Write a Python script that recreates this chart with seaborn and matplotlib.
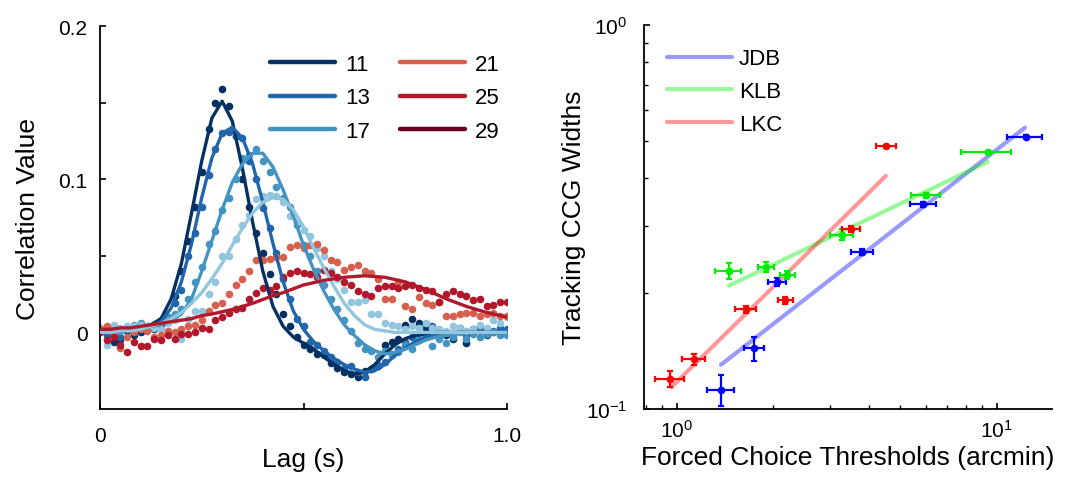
import matplotlib
matplotlib.use('Agg')
import matplotlib.pyplot as plt
import seaborn as sns
import numpy as np
from matplotlib.lines import Line2D
from matplotlib.ticker import LogLocator, NullFormatter

# ---- left panel: cross-correlograms (lag in s) ----
dot_lag = np.linspace(0, 1, 61)
curve_lag = np.linspace(0, 1, 41)

dots_11 = [0.002, -0.002, -0.006, -0.005, 0.001, -0.002, 0.000, 0.003, 0.002,
           0.005, 0.010, 0.024, 0.040, 0.060, 0.082, 0.105, 0.133, 0.150, 0.159, 0.148, 0.128,
           0.100, 0.082, 0.065, 0.052, 0.038, 0.025, 0.012, 0.004, -0.003, -0.008, -0.011, -0.014,
           -0.015, -0.020, -0.023, -0.026, -0.027, -0.029, -0.025, -0.024, -0.022, -0.008, -0.006, -0.004,
           0.005, 0.009, 0.006, 0.003, 0.002, -0.003, -0.002, -0.004, 0.001, -0.007, 0.002, 0.003,
           -0.002, 0.000, 0.001, 0.001]
dots_13 = [0.003, -0.001, 0.001, -0.003, 0.002, 0.003, 0.004, 0.004, 0.005, 0.005, 0.008,
           0.019, 0.028, 0.050, 0.065, 0.082, 0.103, 0.120, 0.130, 0.131, 0.128, 0.127, 0.112,
           0.100, 0.081, 0.068, 0.052, 0.035, 0.022, 0.009, 0.004, -0.006, -0.008, -0.012, -0.016,
           -0.019, -0.023, -0.022, -0.026, -0.029, -0.024, -0.021, -0.019, -0.014, -0.011, -0.006, -0.003,
           -0.005, -0.001, 0.004, 0.001, 0.000, -0.002, 0.003, -0.002, 0.000, 0.002, -0.001, 0.001,
           0.003, 0.002]
dots_17 = [0.001, 0.003, 0.004, 0.001, 0.003, 0.005, 0.006, 0.004, 0.005, 0.008, 0.010, 0.012,
           0.015, 0.022, 0.033, 0.043, 0.058, 0.066, 0.080, 0.088, 0.100, 0.114, 0.116, 0.120,
           0.112, 0.105, 0.095, 0.088, 0.082, 0.070, 0.057, 0.050, 0.040, 0.031, 0.022, 0.015,
           0.008, 0.001, -0.007, -0.011, -0.012, -0.016, -0.012, -0.015, -0.013, -0.008, -0.011, -0.004,
           -0.003, -0.009, -0.004, -0.007, -0.003, 0.000, -0.004, -0.001, -0.003, -0.001, 0.000,
           -0.002, -0.002]
dots_19 = [0.003, -0.008, 0.005, 0.003, 0.004, 0.004, 0.005, 0.004, 0.003, 0.002, 0.006, 0.008,
           -0.004, 0.009, 0.014, 0.014, 0.025, 0.033, 0.050, 0.050, 0.061, 0.070, 0.077, 0.087,
           0.089, 0.090, 0.089, 0.085, 0.076, 0.072, 0.067, 0.063, 0.055, 0.050, 0.040, 0.035,
           0.028, 0.020, 0.020, 0.021, 0.012, 0.012, 0.006, 0.005, 0.004, 0.002, 0.004, 0.003,
           0.006, 0.003, 0.002, 0.001, 0.004, 0.003, 0.001, 0.002, 0.005, 0.003, 0.008, 0.006, 0.010]
dots_21 = [0.002, 0.004, -0.002, -0.010, -0.003, 0.000, 0.002, 0.001, -0.003, -0.002, 0.001, 0.000,
           0.002, 0.004, 0.005, 0.008, 0.014, 0.018, 0.019, 0.025, 0.031, 0.035, 0.040, 0.047,
           0.047, 0.048, 0.049, 0.049, 0.056, 0.057, 0.055, 0.057, 0.058, 0.054, 0.047, 0.046,
           0.041, 0.043, 0.044, 0.040, 0.039, 0.035, 0.022, 0.022, 0.033, 0.017, 0.015, 0.023,
           0.019, 0.018, 0.020, 0.011, 0.011, 0.012, 0.013, 0.013, 0.011, 0.012, 0.013, 0.011, 0.011]
dots_25 = [0.000, -0.005, -0.003, -0.008, -0.013, -0.006, -0.009, -0.009, -0.004, -0.005, -0.002, -0.004,
           -0.001, -0.001, 0.000, 0.003, 0.002, 0.008, 0.010, 0.013, 0.015, 0.016, 0.022, 0.026,
           0.029, 0.028, 0.030, 0.036, 0.039, 0.040, 0.039, 0.038, 0.036, 0.041, 0.039, 0.036,
           0.033, 0.031, 0.027, 0.025, 0.024, 0.029, 0.030, 0.030, 0.029, 0.030, 0.031, 0.029,
           0.028, 0.027, 0.020, 0.025, 0.027, 0.025, 0.024, 0.021, 0.022, 0.017, 0.018, 0.020, 0.020]

fit_11 = [0.001, 0.001, 0.001, 0.002, 0.003, 0.005, 0.009, 0.022, 0.045, 0.078, 0.112, 0.140,
          0.151, 0.138, 0.107, 0.072, 0.040, 0.017, 0.004, -0.003, -0.007, -0.011, -0.016, -0.021,
          -0.025, -0.027, -0.026, -0.021, -0.014, -0.008, -0.004, -0.002, -0.001,
          0.0, 0.0, 0.0, 0.0, 0.0, 0.0, 0.0, 0.0]
fit_13 = [0.001, 0.001, 0.001, 0.002, 0.003, 0.004, 0.007, 0.016, 0.033, 0.058, 0.088, 0.114,
          0.130, 0.134, 0.127, 0.110, 0.085, 0.058, 0.033, 0.014, 0.002, -0.006, -0.012, -0.017,
          -0.021, -0.024, -0.026, -0.025, -0.021, -0.015, -0.010, -0.006, -0.003, -0.002, -0.001,
          0.0, 0.0, 0.0, 0.0, 0.0, 0.0]
fit_17 = [0.001, 0.001, 0.002, 0.002, 0.003, 0.004, 0.005, 0.008, 0.012, 0.022, 0.040, 0.060,
          0.080, 0.098, 0.110, 0.117, 0.117, 0.108, 0.093, 0.076, 0.057, 0.041, 0.027, 0.015,
          0.005, -0.002, -0.008, -0.012, -0.014, -0.013, -0.011, -0.008, -0.005, -0.003, -0.002,
          -0.001, 0.0, 0.0, 0.0, 0.0, 0.0]
fit_19 = [0.000, 0.000, 0.001, 0.001, 0.002, 0.004, 0.006, 0.009, 0.013, 0.019, 0.026, 0.035,
          0.045, 0.057, 0.068, 0.078, 0.085, 0.088, 0.087, 0.080, 0.069, 0.055, 0.042, 0.030,
          0.019, 0.011, 0.005, 0.002, 0.001, 0.0, 0.0, 0.0, 0.0, 0.0, 0.0, 0.0, 0.0, 0.0, 0.0, 0.0, 0.0]
fit_25 = [0.002, 0.002, 0.003, 0.003, 0.004, 0.005, 0.006, 0.007, 0.008, 0.009, 0.011, 0.012,
          0.0135, 0.015, 0.017, 0.019, 0.0215, 0.024, 0.026, 0.0285, 0.031, 0.0325, 0.034, 0.035,
          0.036, 0.0365, 0.037, 0.0365, 0.036, 0.0345, 0.033, 0.0305, 0.028, 0.025, 0.022, 0.0195,
          0.017, 0.015, 0.013, 0.0115, 0.010]

legend_labels = ['11', '13', '17', '21', '25', '29']
legend_colors = ['#053061', '#2166ac', '#4393c3', '#d6604d', '#b2182b', '#67001f']

series_colors = ['#053061', '#2166ac', '#4393c3', '#92c5de', '#d6604d', '#b2182b']
series_dots = [dots_11, dots_13, dots_17, dots_19, dots_21, dots_25]
series_fits = [fit_11, fit_13, fit_17, fit_19, None, fit_25]

# ---- right panel: thresholds vs CCG widths ----
subjects = ['JDB', 'KLB', 'LKC']
subj_colors = ['#0000ff', '#00ee00', '#ff0000']

thr = {'JDB': [1.375, 1.748, 2.058, 3.804, 5.90, 12.32],
       'KLB': [1.450, 1.897, 2.207, 3.279, 6.00, 9.375],
       'LKC': [0.951, 1.130, 1.643, 2.176, 3.506, 4.499]}
thr_lo = {'JDB': [1.241, 1.62, 1.925, 3.506, 5.36, 10.75],
          'KLB': [1.311, 1.796, 2.094, 3.015, 5.39, 7.737],
          'LKC': [0.852, 1.039, 1.518, 2.064, 3.294, 4.187]}
thr_hi = {'JDB': [1.51, 1.866, 2.196, 4.117, 6.46, 13.86],
          'KLB': [1.589, 2.005, 2.338, 3.548, 6.65, 11.06],
          'LKC': [1.054, 1.226, 1.770, 2.304, 3.741, 4.835]}
wid = {'JDB': [0.1122, 0.1441, 0.2136, 0.2566, 0.3415, 0.5124],
       'KLB': [0.2291, 0.2350, 0.2237, 0.2847, 0.3604, 0.4664],
       'LKC': [0.1197, 0.1346, 0.1817, 0.1922, 0.2939, 0.4834]}
wid_lo = {'JDB': [0.1016, 0.1336, 0.2085, 0.2518, 0.3368, 0.508],
          'KLB': [0.2180, 0.2277, 0.2180, 0.2758, 0.355, 0.462],
          'LKC': [0.1143, 0.1304, 0.1778, 0.1876, 0.2884, 0.4795]}
wid_hi = {'JDB': [0.1228, 0.1542, 0.2188, 0.2607, 0.3464, 0.517],
          'KLB': [0.2407, 0.2416, 0.2291, 0.2939, 0.366, 0.471],
          'LKC': [0.1253, 0.139, 0.1856, 0.1960, 0.2995, 0.4873]}
fit_x = {'JDB': [1.373, 12.26], 'KLB': [1.454, 9.375], 'LKC': [0.960, 4.499]}
fit_y = {'JDB': [0.1304, 0.5406], 'KLB': [0.2094, 0.4401], 'LKC': [0.1139, 0.4046]}

sns.set_style('ticks')
plt.rcParams['font.family'] = ['Liberation Sans', 'DejaVu Sans']
plt.rcParams['mathtext.fontset'] = 'custom'
plt.rcParams['mathtext.rm'] = 'Liberation Sans'
plt.rcParams['mathtext.it'] = 'Liberation Sans:italic'
plt.rcParams['xtick.direction'] = 'in'
plt.rcParams['ytick.direction'] = 'in'
for key in ['text.color', 'axes.labelcolor', 'xtick.color', 'ytick.color', 'axes.edgecolor']:
    plt.rcParams[key] = 'black'

fig = plt.figure(figsize=(10.67, 4.81), dpi=100)

# left
ax1 = fig.add_axes([0.0937, 0.1476, 0.3815, 0.796])
for c, d, f in zip(series_colors, series_dots, series_fits):
    sns.scatterplot(x=dot_lag, y=d, color=c, s=30, linewidth=0, ax=ax1, zorder=2)
    if f is not None:
        sns.lineplot(x=curve_lag, y=f, color=c, linewidth=2.4, ax=ax1, zorder=3)
ax1.set_xlim(0, 1)
ax1.set_ylim(-0.05, 0.2)
ax1.set_xticks([0, 0.5, 1.0])
ax1.set_xticklabels(['0', '', '1.0'])
ax1.set_yticks([0, 0.05, 0.1, 0.15, 0.2])
ax1.set_yticklabels(['0', '', '0.1', '', '0.2'])
ax1.tick_params(axis='both', labelsize=15, length=4, width=1.2)
ax1.tick_params(axis='x', pad=12)
ax1.tick_params(axis='y', pad=9)
ax1.set_xlabel('Lag (s)', fontsize=19, labelpad=2)
ax1.set_ylabel('Correlation Value', fontsize=19, labelpad=13)
for s in ['left', 'bottom']:
    ax1.spines[s].set_linewidth(1.3)
sns.despine(ax=ax1)
handles = [Line2D([0], [0], color=c, lw=3.2) for c in legend_colors]
ax1.legend(handles, legend_labels, ncol=2, frameon=False, fontsize=16,
           loc='upper left', bbox_to_anchor=(0.417, 0.928), borderpad=0, borderaxespad=0,
           handlelength=2.93, handletextpad=0.45, columnspacing=1.35, labelspacing=0.57)

# right
ax2 = fig.add_axes([0.6036, 0.1476, 0.3824, 0.7983])
ax2.set_xscale('log')
ax2.set_yscale('log')
for name, c in zip(subjects, subj_colors):
    sns.lineplot(x=fit_x[name], y=fit_y[name], color=c, alpha=0.4, linewidth=3,
                 ax=ax2, zorder=2, label=name)
for name, c in zip(subjects, subj_colors):
    x = np.array(thr[name])
    y = np.array(wid[name])
    xerr = [x - np.array(thr_lo[name]), np.array(thr_hi[name]) - x]
    yerr = [y - np.array(wid_lo[name]), np.array(wid_hi[name]) - y]
    ax2.errorbar(x, y, xerr=xerr, yerr=yerr, fmt='o', color=c, ms=4.5,
                 elinewidth=1.6, capsize=2.5, capthick=1.6, zorder=3)
ax2.set_xlim(0.789, 14.9)
ax2.set_ylim(0.1, 1.0)
ax2.set_xticks([1, 10])
ax2.set_xticklabels(['$10^{0}$', '$10^{1}$'])
ax2.set_yticks([0.1, 1.0])
ax2.set_yticklabels(['$10^{-1}$', '$10^{0}$'])
ax2.xaxis.set_minor_locator(LogLocator(base=10, subs=np.arange(2, 10)))
ax2.yaxis.set_minor_locator(LogLocator(base=10, subs=np.arange(2, 10)))
ax2.xaxis.set_minor_formatter(NullFormatter())
ax2.yaxis.set_minor_formatter(NullFormatter())
ax2.tick_params(axis='both', which='major', labelsize=15, length=4, width=1.2)
ax2.tick_params(axis='both', which='minor', length=3, width=1)
ax2.tick_params(axis='x', which='major', pad=7)
ax2.tick_params(axis='y', which='major', pad=12)
ax2.set_xlabel('Forced Choice Thresholds (arcmin)', fontsize=19, labelpad=3)
ax2.set_ylabel('Tracking CCG Widths', fontsize=19, labelpad=0)
for s in ['left', 'bottom']:
    ax2.spines[s].set_linewidth(1.3)
sns.despine(ax=ax2)
ax2.legend(frameon=False, fontsize=16, loc='upper left', bbox_to_anchor=(0.056, 0.939),
           borderpad=0, borderaxespad=0, handlelength=2.93, handletextpad=0.32,
           labelspacing=0.52)

fig.savefig('out.png', dpi=100)
